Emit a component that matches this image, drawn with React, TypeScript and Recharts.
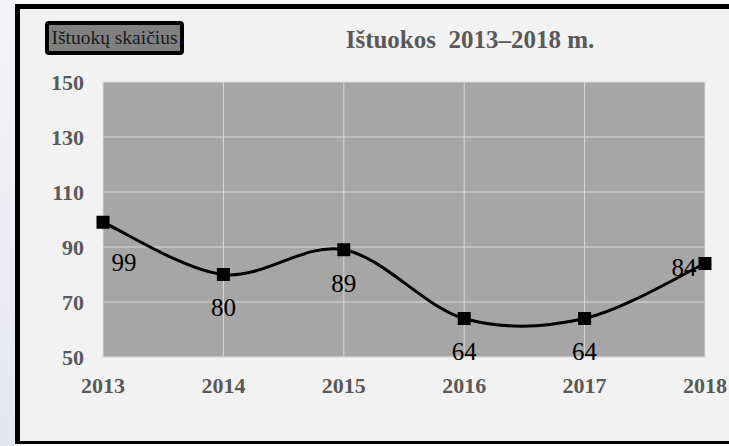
import React from "react";
import { CartesianGrid, LabelList, Line, LineChart, XAxis, YAxis } from "recharts";

const YEARS = ["2013", "2014", "2015", "2016", "2017", "2018"];
const DIVORCES = [99, 80, 89, 64, 64, 84];
const Y_TICKS = [50, 70, 90, 110, 130, 150];
const TITLE = "Ištuokos  2013–2018 m.";
const SERIES_NAME = "Ištuokų skaičius";

const data = YEARS.map((year, i) => ({ year, value: DIVORCES[i] }));

const SERIF = '"Liberation Serif", "Times New Roman", serif';
const AXIS_GRAY = "#595959";

// Excel-style smoothed line (Catmull-Rom as cubic beziers)
function excelSmooth(context: any) {
  let pts: [number, number][] = [];
  return {
    areaStart() {},
    areaEnd() {},
    lineStart() {
      pts = [];
    },
    point(x: number, y: number) {
      pts.push([+x, +y]);
    },
    lineEnd() {
      if (!pts.length) return;
      context.moveTo(pts[0][0], pts[0][1]);
      for (let i = 0; i < pts.length - 1; i++) {
        const p0 = pts[Math.max(i - 1, 0)];
        const p1 = pts[i];
        const p2 = pts[i + 1];
        const p3 = pts[Math.min(i + 2, pts.length - 1)];
        context.bezierCurveTo(
          p1[0] + (p2[0] - p0[0]) / 6,
          p1[1] + (p2[1] - p0[1]) / 6,
          p2[0] - (p3[0] - p1[0]) / 6,
          p2[1] - (p3[1] - p1[1]) / 6,
          p2[0],
          p2[1]
        );
      }
    },
  };
}

function SquareDot(props: any) {
  const { cx, cy, index } = props;
  if (cx == null || cy == null) return null;
  return <rect key={`dot-${index}`} x={cx - 6.5} y={cy - 6.5} width={13} height={13} fill="#000" />;
}

function PointLabel(props: any) {
  const x = props.x ?? props.viewBox?.x;
  const y = props.y ?? props.viewBox?.y;
  const { value, index } = props;
  let dx = 0;
  let dy = 33;
  if (index === 0) {
    dx = 21;
    dy = 40;
  } else if (index === DIVORCES.length - 1) {
    dx = -21;
    dy = 4;
  }
  return (
    <text
      x={x + dx}
      y={y + dy}
      dy="0.35em"
      textAnchor="middle"
      fontSize={25}
      fontFamily={SERIF}
      fill="#000"
    >
      {value}
    </text>
  );
}

export default function App() {
  const tick = { fontSize: 22, fontWeight: 700, fill: AXIS_GRAY, fontFamily: SERIF };
  return (
    <div
      style={{
        position: "fixed",
        left: 0,
        top: 0,
        width: 729,
        height: 446,
        overflow: "hidden",
        background: "#fafafa",
      }}
    >
      <div
        style={{
          position: "absolute",
          left: 0,
          top: 0,
          width: 15,
          height: 446,
          background: "linear-gradient(to bottom, #f4f4f8, #e6e6ee)",
        }}
      />
      <div
        style={{
          position: "absolute",
          left: 15,
          top: 4,
          width: 740,
          height: 440,
          boxSizing: "border-box",
          borderStyle: "solid",
          borderColor: "#000",
          borderWidth: "5px 5px 3px 5px",
          background: "#f2f2f2",
        }}
      />
      <div style={{ position: "absolute", left: 0, top: 0 }}>
        <LineChart
          width={729}
          height={446}
          data={data}
          margin={{ top: 82, right: 24, bottom: 59, left: 63 }}
        >
          <CartesianGrid fill="#a6a6a6" stroke="#d9d9d9" strokeWidth={1} />
          <XAxis
            dataKey="year"
            height={30}
            axisLine={false}
            tickLine={false}
            tickSize={0}
            tickMargin={20}
            tick={tick}
            interval={0}
          />
          <YAxis
            width={40}
            domain={[50, 150]}
            ticks={Y_TICKS}
            axisLine={false}
            tickLine={false}
            tickSize={0}
            tickMargin={19}
            tick={tick}
            interval={0}
          />
          <Line
            type={excelSmooth as any}
            dataKey="value"
            stroke="#000"
            strokeWidth={3}
            dot={SquareDot}
            activeDot={false}
            isAnimationActive={false}
          >
            <LabelList dataKey="value" content={PointLabel} />
          </Line>
        </LineChart>
      </div>
      <div
        style={{
          position: "absolute",
          left: 45,
          top: 21,
          width: 139,
          height: 34,
          boxSizing: "border-box",
          border: "4px solid #000",
          borderRadius: 4,
          background: "#808080",
          color: "#1a1a1a",
          fontFamily: SERIF,
          fontSize: 19.5,
          lineHeight: "26px",
          textAlign: "center",
          whiteSpace: "nowrap",
        }}
      >
        {SERIES_NAME}
      </div>
      <div
        style={{
          position: "absolute",
          left: 270,
          width: 400,
          top: 25,
          textAlign: "center",
          fontFamily: SERIF,
          fontSize: 25,
          fontWeight: 700,
          color: AXIS_GRAY,
          whiteSpace: "pre",
          lineHeight: "30px",
        }}
      >
        {TITLE}
      </div>
    </div>
  );
}
